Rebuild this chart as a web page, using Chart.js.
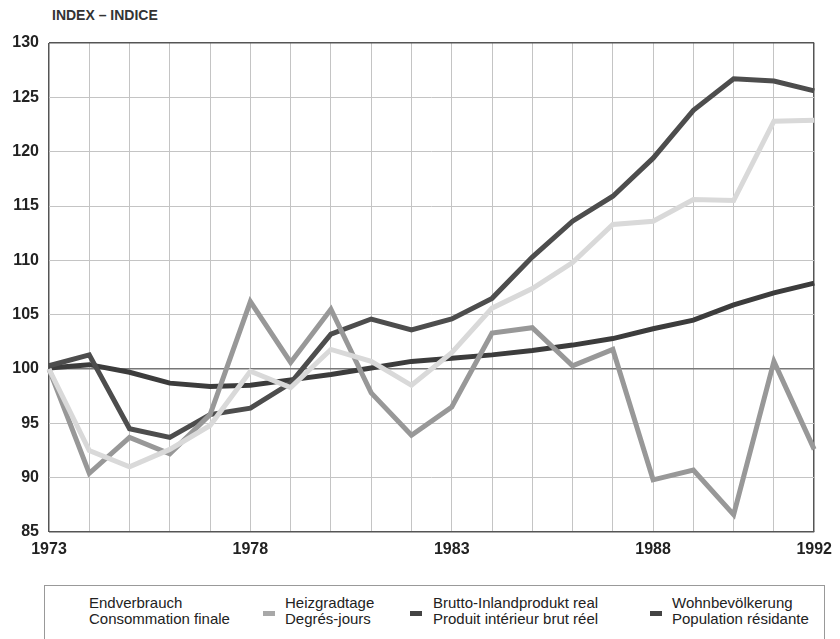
<!DOCTYPE html>
<html><head><meta charset="utf-8">
<script src="https://cdn.jsdelivr.net/npm/chart.js@4"></script>
<style>
html,body{margin:0;padding:0;background:#fff;width:840px;height:639px;overflow:hidden;font-family:"Liberation Sans",Arial,sans-serif;}
#wrap{position:absolute;left:0;top:0;width:840px;height:570px;}
#title{position:absolute;left:52px;top:7px;font-weight:bold;font-size:14px;color:#333;}
#legend{position:absolute;left:44px;top:585px;width:781px;height:70px;border:1px solid #999;box-sizing:border-box;}
.item{position:absolute;top:9px;font-size:15px;line-height:16px;color:#222;}
.mk{position:absolute;top:25px;width:12px;height:5px;}
</style></head>
<body>
<div id="title">INDEX – INDICE</div>
<div id="wrap"><canvas id="c" width="840" height="570"></canvas></div>
<div id="legend"></div>
<script>
const years = ["1973","1974","1975","1976","1977","1978","1979","1980","1981","1982","1983","1984","1985","1986","1987","1988","1989","1990","1991","1992"];
const shownYears = ["1973","1978","1983","1988","1992"];
const yTicks = [85,90,95,100,105,110,115,120,125,130];
const endverbrauch = [100.0,92.5,91.0,92.6,94.8,99.8,98.3,101.8,100.7,98.5,101.5,105.6,107.4,109.8,113.3,113.6,115.6,115.5,122.8,122.9];
const heizgradtage = [100.0,90.4,93.7,92.2,95.8,106.2,100.6,105.5,97.8,93.9,96.5,103.3,103.8,100.3,101.8,89.8,90.7,86.6,100.7,92.6];
const bip = [100.3,101.3,94.5,93.7,95.8,96.4,98.7,103.2,104.6,103.6,104.6,106.5,110.3,113.6,115.9,119.4,123.8,126.7,126.5,125.6];
const bevoelkerung = [100.1,100.4,99.7,98.7,98.4,98.5,99.0,99.5,100.1,100.7,101.0,101.3,101.7,102.2,102.8,103.7,104.5,105.9,107.0,107.9];
const names = [["Endverbrauch","Consommation finale"],["Heizgradtage","Degrés-jours"],["Brutto-Inlandprodukt real","Produit intérieur brut réel"],["Wohnbevölkerung","Population résidante"]];
const colors = ["#d9d9d9","#989898","#4d4d4d","#3c3c3c"];
const markColors = [null,"#a8a8a8","#444444","#444444"];
const series = [endverbrauch, heizgradtage, bip, bevoelkerung];

const datasets = series.map((d,i)=>({label:names[i].join(" / "),data:d,borderColor:colors[i],backgroundColor:colors[i],borderWidth:5,pointRadius:0,tension:0,fill:false,borderJoinStyle:'miter'}));

new Chart(document.getElementById('c'),{
 type:'line',
 data:{labels:years,datasets:datasets},
 options:{
  responsive:false,animation:false,
  layout:{padding:{left:0,right:23,top:43,bottom:0}},
  plugins:{legend:{display:false},tooltip:{enabled:false}},
  scales:{
   x:{
    offset:false,
    grid:{color:(c)=> (c.index===0||c.index===years.length-1)?'#555':'#c4c4c4',lineWidth:(c)=>(c.index===0||c.index===years.length-1)?1.5:1,drawTicks:false},
    border:{display:false},
    ticks:{autoSkip:false,maxRotation:0,padding:8,color:'#222',font:{family:'"Liberation Sans",Arial,sans-serif',size:16,weight:'bold'},
      callback:function(v,i){const l=years[i];return shownYears.includes(l)?l:'';}},
    afterFit:(s)=>{s.height=38;}
   },
   y:{
    min:85,max:130,
    afterBuildTicks:(s)=>{s.ticks=yTicks.map(v=>({value:v}));},
    grid:{color:(c)=>{const v=c.tick&&c.tick.value;return (v===85||v===130)?'#555':(v===100?'#777':'#c4c4c4');},lineWidth:(c)=>{const v=c.tick&&c.tick.value;return (v===85||v===130||v===100)?1.5:1;},drawTicks:false},
    border:{display:false},
    ticks:{padding:10,color:'#222',font:{family:'"Liberation Sans",Arial,sans-serif',size:16,weight:'bold'}},
    afterFit:(s)=>{s.width=49;}
   }
  }
 }
});

const leg = document.getElementById('legend');
const textX = [44,240,388,627];
const markX = [null,218,365,605];
names.forEach((n,i)=>{
 if(markX[i]!==null){const m=document.createElement('div');m.className='mk';m.style.left=markX[i]+'px';m.style.background=markColors[i];leg.appendChild(m);}
 const t=document.createElement('div');t.className='item';t.style.left=textX[i]+'px';t.innerHTML=n[0]+'<br>'+n[1];leg.appendChild(t);
});
</script>
</body></html>
